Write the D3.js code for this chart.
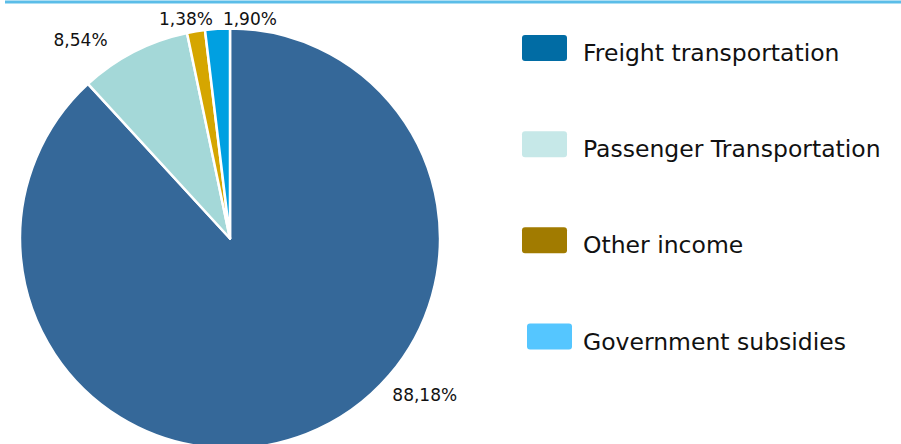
<!DOCTYPE html>
<html>
<head>
<meta charset="utf-8">
<script src="https://cdn.jsdelivr.net/npm/d3@7"></script>
<style>
  html, body { margin: 0; padding: 0; background: #ffffff; }
  svg { display: block; font-family: "DejaVu Sans", Verdana, sans-serif; }
</style>
</head>
<body>
<svg id="chart" width="901" height="444"></svg>
<script>
// Revenue structure, share of total (%)
const categories = ["Freight transportation", "Passenger Transportation", "Other income", "Government subsidies"];
const shares = [88.18, 8.54, 1.38, 1.90];
const valueLabels = ["88,18%", "8,54%", "1,38%", "1,90%"];
const sliceColors = ["#356899", "#a4d8d8", "#d5a600", "#00a0e1"];
const legendColors = ["#016ca4", "#c6e8e8", "#a17b00", "#55c6ff"];

const svg = d3.select("#chart");
const W = 901, H = 444;

// thin accent rule along the top edge
svg.append("line")
  .attr("x1", 5).attr("x2", W)
  .attr("y1", 2).attr("y2", 2)
  .attr("stroke", "#5bbde8")
  .attr("stroke-width", 3);

const cx = 230, cy = 238.5, R = 210;

const pie = d3.pie().sort(null).value(d => d.value);
const arcs = pie(categories.map((c, i) => ({ name: c, value: shares[i], i })));
const arc = d3.arc().innerRadius(0).outerRadius(R);

const g = svg.append("g").attr("transform", `translate(${cx},${cy})`);

g.selectAll("path.slice")
  .data(arcs)
  .join("path")
  .attr("class", "slice")
  .attr("d", arc)
  .attr("fill", d => sliceColors[d.data.i])
  .attr("stroke", "#ffffff")
  .attr("stroke-width", 2.5)
  .attr("stroke-linejoin", "round");

// data labels: big slice labelled lower right, small slices just above the rim
const labelRadius = [0.797, 1.063, 1.059, 1.047];
const labelShift = [[134, 0], [-47.5, 0], [-8, 0], [33, 0]];
g.selectAll("text.value")
  .data(arcs)
  .join("text")
  .attr("class", "value")
  .attr("x", d => {
    const a = (d.startAngle + d.endAngle) / 2;
    return Math.sin(a) * R * labelRadius[d.data.i] + labelShift[d.data.i][0];
  })
  .attr("y", d => {
    const a = (d.startAngle + d.endAngle) / 2;
    return -Math.cos(a) * R * labelRadius[d.data.i] + labelShift[d.data.i][1];
  })
  .attr("dy", "0.36em")
  .attr("text-anchor", "middle")
  .attr("font-size", 17)
  .attr("fill", "#111111")
  .text(d => valueLabels[d.data.i]);

// legend
const legendY = d3.scalePoint().domain(categories).range([48, 336.5]);
const legendX = [522, 522, 522, 527];
const lg = svg.append("g");
const items = lg.selectAll("g.item")
  .data(categories)
  .join("g")
  .attr("class", "item")
  .attr("transform", d => `translate(0,${legendY(d)})`);

items.append("rect")
  .attr("x", (d, i) => legendX[i])
  .attr("y", -13)
  .attr("width", 45)
  .attr("height", 26)
  .attr("rx", 3)
  .attr("fill", (d, i) => legendColors[i]);

items.append("text")
  .attr("x", 583)
  .attr("y", 13)
  .attr("font-size", 23.5)
  .attr("fill", "#111111")
  .text(d => d);
</script>
</body>
</html>
